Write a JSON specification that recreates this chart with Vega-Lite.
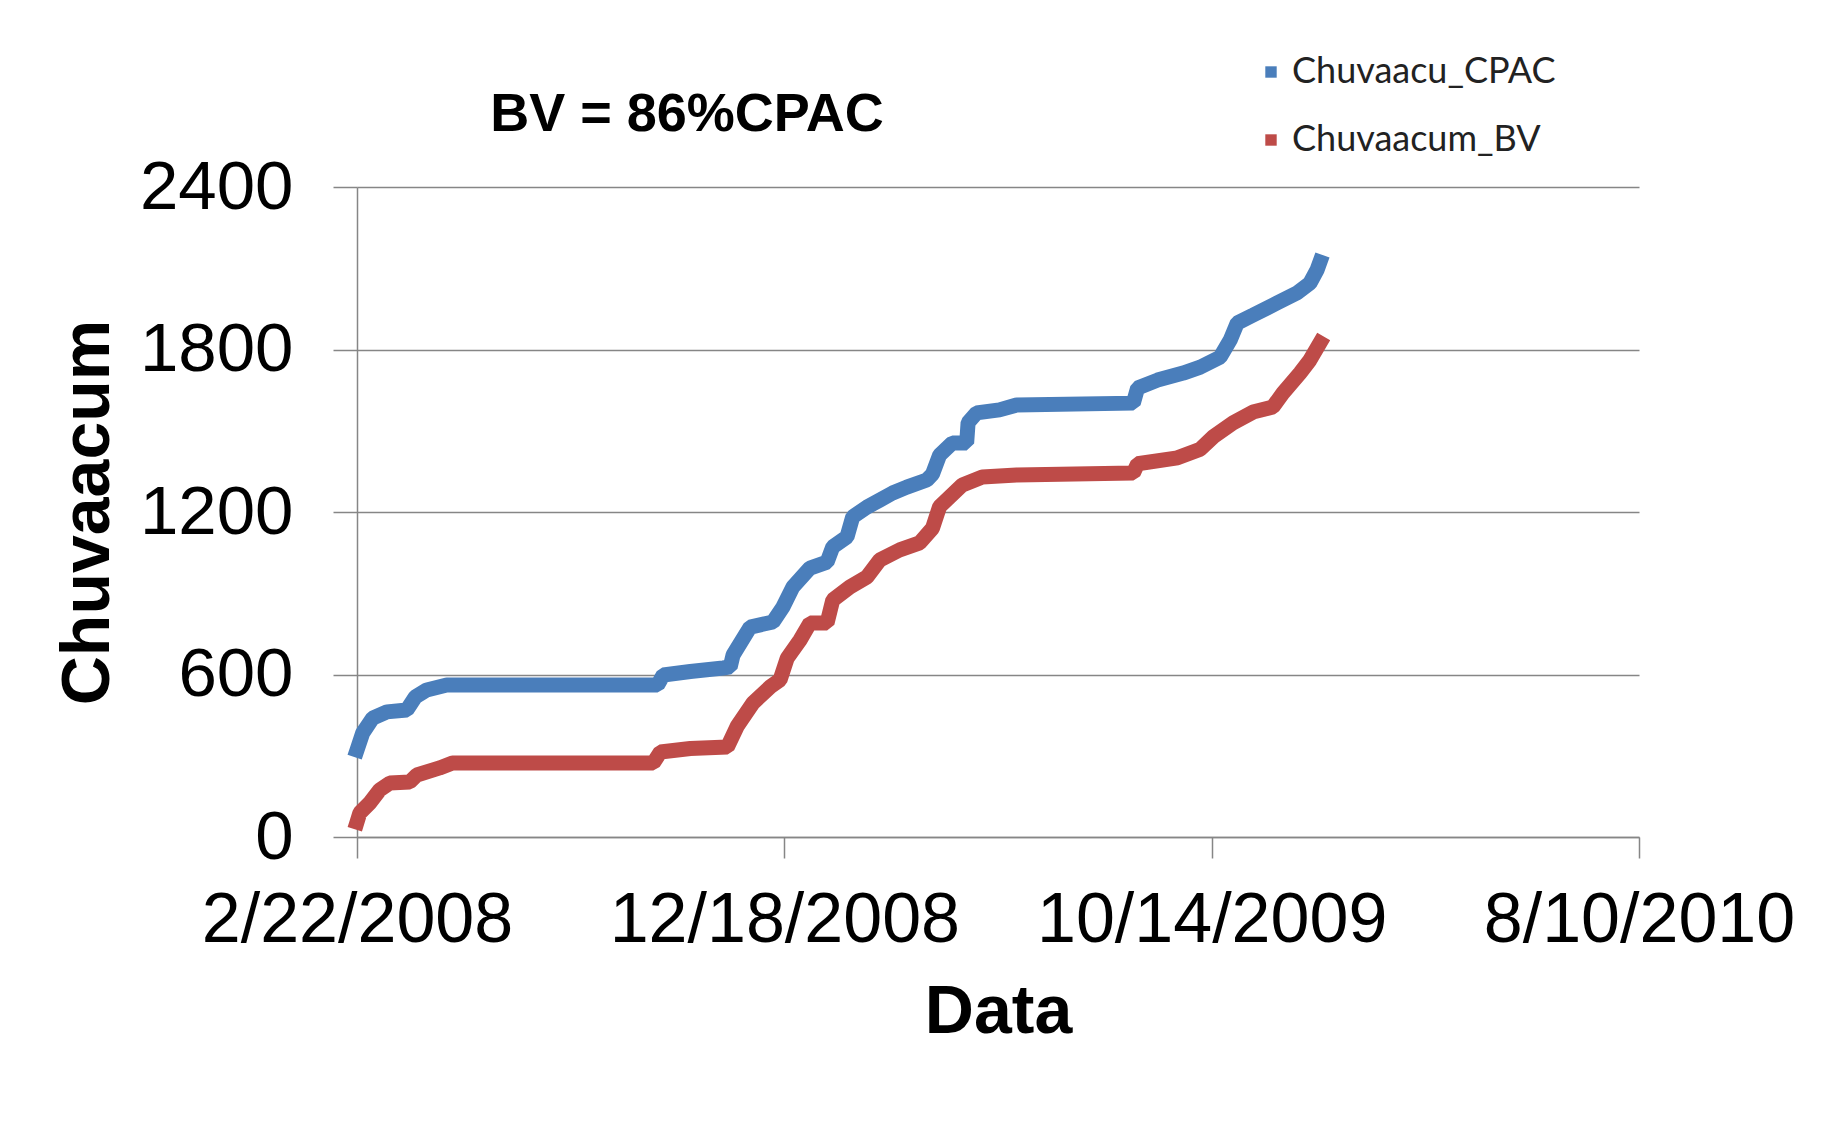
{
  "$schema": "https://vega.github.io/schema/vega-lite/v6.json",
  "autosize": {"type": "none"},
  "width": 1282,
  "height": 650,
  "padding": {"left": 357, "top": 187, "right": 194, "bottom": 302},
  "background": "white",
  "config": {
    "view": {"stroke": null},
    "font": "Liberation Sans"
  },
  "title": {
    "text": "BV = 86%CPAC",
    "font": "Liberation Sans",
    "fontSize": 54,
    "fontWeight": "bold",
    "color": "black",
    "anchor": "middle",
    "frame": "group",
    "dx": -311,
    "baseline": "alphabetic",
    "offset": -131,
    "limit": 0
  },
  "data": {
    "values": [
      {"date": "2008-02-22", "series": "Chuvaacu_CPAC", "value": 321},
      {"date": "2008-02-26", "series": "Chuvaacu_CPAC", "value": 384},
      {"date": "2008-03-04", "series": "Chuvaacu_CPAC", "value": 439},
      {"date": "2008-03-14", "series": "Chuvaacu_CPAC", "value": 462},
      {"date": "2008-03-28", "series": "Chuvaacu_CPAC", "value": 469},
      {"date": "2008-04-03", "series": "Chuvaacu_CPAC", "value": 517},
      {"date": "2008-04-11", "series": "Chuvaacu_CPAC", "value": 543},
      {"date": "2008-04-25", "series": "Chuvaacu_CPAC", "value": 561},
      {"date": "2008-09-20", "series": "Chuvaacu_CPAC", "value": 561},
      {"date": "2008-09-24", "series": "Chuvaacu_CPAC", "value": 598},
      {"date": "2008-10-13", "series": "Chuvaacu_CPAC", "value": 611},
      {"date": "2008-11-05", "series": "Chuvaacu_CPAC", "value": 624},
      {"date": "2008-11-10", "series": "Chuvaacu_CPAC", "value": 628},
      {"date": "2008-11-12", "series": "Chuvaacu_CPAC", "value": 672},
      {"date": "2008-11-24", "series": "Chuvaacu_CPAC", "value": 775},
      {"date": "2008-12-10", "series": "Chuvaacu_CPAC", "value": 794},
      {"date": "2008-12-17", "series": "Chuvaacu_CPAC", "value": 849},
      {"date": "2008-12-24", "series": "Chuvaacu_CPAC", "value": 923},
      {"date": "2009-01-05", "series": "Chuvaacu_CPAC", "value": 993},
      {"date": "2009-01-17", "series": "Chuvaacu_CPAC", "value": 1015},
      {"date": "2009-01-21", "series": "Chuvaacu_CPAC", "value": 1071},
      {"date": "2009-01-31", "series": "Chuvaacu_CPAC", "value": 1108},
      {"date": "2009-02-04", "series": "Chuvaacu_CPAC", "value": 1182},
      {"date": "2009-02-14", "series": "Chuvaacu_CPAC", "value": 1218},
      {"date": "2009-02-23", "series": "Chuvaacu_CPAC", "value": 1244},
      {"date": "2009-03-04", "series": "Chuvaacu_CPAC", "value": 1270},
      {"date": "2009-03-14", "series": "Chuvaacu_CPAC", "value": 1292},
      {"date": "2009-03-28", "series": "Chuvaacu_CPAC", "value": 1318},
      {"date": "2009-04-01", "series": "Chuvaacu_CPAC", "value": 1340},
      {"date": "2009-04-06", "series": "Chuvaacu_CPAC", "value": 1410},
      {"date": "2009-04-15", "series": "Chuvaacu_CPAC", "value": 1455},
      {"date": "2009-04-25", "series": "Chuvaacu_CPAC", "value": 1455},
      {"date": "2009-04-26", "series": "Chuvaacu_CPAC", "value": 1530},
      {"date": "2009-05-02", "series": "Chuvaacu_CPAC", "value": 1566},
      {"date": "2009-05-18", "series": "Chuvaacu_CPAC", "value": 1577},
      {"date": "2009-05-30", "series": "Chuvaacu_CPAC", "value": 1595},
      {"date": "2009-08-20", "series": "Chuvaacu_CPAC", "value": 1602},
      {"date": "2009-08-23", "series": "Chuvaacu_CPAC", "value": 1658},
      {"date": "2009-09-06", "series": "Chuvaacu_CPAC", "value": 1687},
      {"date": "2009-09-24", "series": "Chuvaacu_CPAC", "value": 1713},
      {"date": "2009-10-06", "series": "Chuvaacu_CPAC", "value": 1735},
      {"date": "2009-10-20", "series": "Chuvaacu_CPAC", "value": 1772},
      {"date": "2009-10-27", "series": "Chuvaacu_CPAC", "value": 1835},
      {"date": "2009-11-01", "series": "Chuvaacu_CPAC", "value": 1898},
      {"date": "2009-11-12", "series": "Chuvaacu_CPAC", "value": 1927},
      {"date": "2009-11-29", "series": "Chuvaacu_CPAC", "value": 1972},
      {"date": "2009-12-13", "series": "Chuvaacu_CPAC", "value": 2009},
      {"date": "2009-12-22", "series": "Chuvaacu_CPAC", "value": 2045},
      {"date": "2009-12-27", "series": "Chuvaacu_CPAC", "value": 2094},
      {"date": "2009-12-29", "series": "Chuvaacu_CPAC", "value": 2123},
      {"date": "2008-02-22", "series": "Chuvaacum_BV", "value": 55},
      {"date": "2008-02-24", "series": "Chuvaacum_BV", "value": 89},
      {"date": "2008-03-02", "series": "Chuvaacum_BV", "value": 126},
      {"date": "2008-03-09", "series": "Chuvaacum_BV", "value": 174},
      {"date": "2008-03-16", "series": "Chuvaacum_BV", "value": 199},
      {"date": "2008-03-30", "series": "Chuvaacum_BV", "value": 203},
      {"date": "2008-04-04", "series": "Chuvaacum_BV", "value": 229},
      {"date": "2008-04-20", "series": "Chuvaacum_BV", "value": 255},
      {"date": "2008-04-29", "series": "Chuvaacum_BV", "value": 273},
      {"date": "2008-09-17", "series": "Chuvaacum_BV", "value": 273},
      {"date": "2008-09-22", "series": "Chuvaacum_BV", "value": 314},
      {"date": "2008-10-13", "series": "Chuvaacum_BV", "value": 327},
      {"date": "2008-11-08", "series": "Chuvaacum_BV", "value": 332},
      {"date": "2008-11-15", "series": "Chuvaacum_BV", "value": 410},
      {"date": "2008-11-26", "series": "Chuvaacum_BV", "value": 495},
      {"date": "2008-12-08", "series": "Chuvaacum_BV", "value": 554},
      {"date": "2008-12-15", "series": "Chuvaacum_BV", "value": 580},
      {"date": "2008-12-20", "series": "Chuvaacum_BV", "value": 660},
      {"date": "2008-12-29", "series": "Chuvaacum_BV", "value": 727},
      {"date": "2009-01-05", "series": "Chuvaacum_BV", "value": 790},
      {"date": "2009-01-17", "series": "Chuvaacum_BV", "value": 790},
      {"date": "2009-01-21", "series": "Chuvaacum_BV", "value": 875},
      {"date": "2009-02-02", "series": "Chuvaacum_BV", "value": 923},
      {"date": "2009-02-14", "series": "Chuvaacum_BV", "value": 960},
      {"date": "2009-02-23", "series": "Chuvaacum_BV", "value": 1023},
      {"date": "2009-03-09", "series": "Chuvaacum_BV", "value": 1060},
      {"date": "2009-03-23", "series": "Chuvaacum_BV", "value": 1086},
      {"date": "2009-04-01", "series": "Chuvaacum_BV", "value": 1140},
      {"date": "2009-04-06", "series": "Chuvaacum_BV", "value": 1220},
      {"date": "2009-04-13", "series": "Chuvaacum_BV", "value": 1255},
      {"date": "2009-04-22", "series": "Chuvaacum_BV", "value": 1300},
      {"date": "2009-05-06", "series": "Chuvaacum_BV", "value": 1329},
      {"date": "2009-05-30", "series": "Chuvaacum_BV", "value": 1337},
      {"date": "2009-08-20", "series": "Chuvaacum_BV", "value": 1344},
      {"date": "2009-08-23", "series": "Chuvaacum_BV", "value": 1378},
      {"date": "2009-09-20", "series": "Chuvaacum_BV", "value": 1400},
      {"date": "2009-10-06", "series": "Chuvaacum_BV", "value": 1432},
      {"date": "2009-10-15", "series": "Chuvaacum_BV", "value": 1477},
      {"date": "2009-10-29", "series": "Chuvaacum_BV", "value": 1529},
      {"date": "2009-11-12", "series": "Chuvaacum_BV", "value": 1569},
      {"date": "2009-11-26", "series": "Chuvaacum_BV", "value": 1588},
      {"date": "2009-12-03", "series": "Chuvaacum_BV", "value": 1639},
      {"date": "2009-12-15", "series": "Chuvaacum_BV", "value": 1713},
      {"date": "2009-12-22", "series": "Chuvaacum_BV", "value": 1761},
      {"date": "2009-12-29", "series": "Chuvaacum_BV", "value": 1824}
    ]
  },
  "mark": {"type": "line", "strokeWidth": 15, "strokeCap": "square", "strokeJoin": "bevel"},
  "encoding": {
    "x": {
      "field": "date",
      "type": "temporal",
      "scale": {
        "type": "utc",
        "domain": [
          {"year": 2008, "month": 2, "date": 22, "utc": true},
          {"year": 2010, "month": 8, "date": 10, "utc": true}
        ]
      },
      "axis": {
        "title": "Data",
        "titleFont": "Liberation Sans",
        "titleFontSize": 68,
        "titleFontWeight": "bold",
        "titleColor": "black",
        "titlePadding": 23,
        "values": [
          {"year": 2008, "month": 2, "date": 22, "utc": true},
          {"year": 2008, "month": 12, "date": 18, "utc": true},
          {"year": 2009, "month": 10, "date": 14, "utc": true},
          {"year": 2010, "month": 8, "date": 10, "utc": true}
        ],
        "format": "%-m/%-d/%Y",
        "labelFont": "Liberation Sans",
        "labelFontSize": 70,
        "labelColor": "black",
        "labelPadding": 28,
        "labelLimit": 0,
        "labelFlush": false,
        "labelOverlap": false,
        "grid": false,
        "tickSize": 21,
        "tickColor": "#868686",
        "tickWidth": 1.5,
        "domainColor": "#868686",
        "domainWidth": 1.5
      }
    },
    "y": {
      "field": "value",
      "type": "quantitative",
      "scale": {"domain": [0, 2400], "nice": false},
      "axis": {
        "title": "Chuvaacum",
        "titleFont": "Liberation Sans",
        "titleFontSize": 68,
        "titleFontWeight": "bold",
        "titleColor": "black",
        "titlePadding": 35,
        "titleLimit": 0,
        "values": [0, 600, 1200, 1800, 2400],
        "format": "d",
        "labelFont": "Liberation Sans",
        "labelFontSize": 69,
        "labelColor": "black",
        "labelPadding": 40,
        "labelLimit": 0,
        "labelFlush": false,
        "labelOverlap": false,
        "grid": true,
        "gridColor": "#868686",
        "gridWidth": 1.5,
        "tickSize": 24,
        "tickColor": "#868686",
        "tickWidth": 1.5,
        "domainColor": "#868686",
        "domainWidth": 1.5
      }
    },
    "color": {
      "field": "series",
      "type": "nominal",
      "scale": {"domain": ["Chuvaacu_CPAC", "Chuvaacum_BV"], "range": ["#4A7EBB", "#BE4B48"]},
      "legend": {
        "title": null,
        "orient": "none",
        "legendX": 896,
        "legendY": -133,
        "symbolType": "square",
        "symbolSize": 130,
        "symbolStrokeWidth": 0,
        "labelFont": "Lato",
        "labelFontSize": 36,
        "labelColor": "#222222",
        "labelOffset": 3,
        "labelLimit": 0,
        "rowPadding": 32,
        "padding": 0,
        "encode": {
          "symbols": {"update": {"fill": {"scale": "color", "field": "value"}, "strokeWidth": {"value": 0}}}
        }
      }
    }
  }
}
